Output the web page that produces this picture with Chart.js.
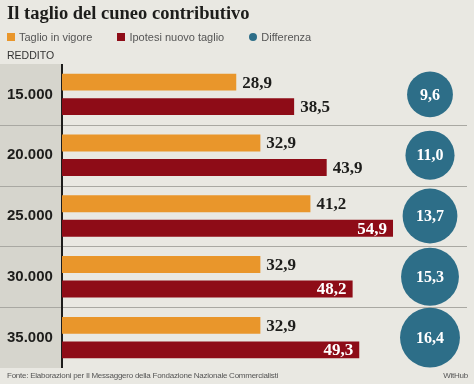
<!DOCTYPE html>
<html>
<head>
<meta charset="utf-8">
<script src="https://cdn.jsdelivr.net/npm/chart.js@4/dist/chart.umd.min.js"></script>
<style>
  body { margin: 0; background: #e9e8e2; }
  #wrap { position: relative; width: 474px; height: 384px; overflow: hidden; background: #e9e8e2; }
  canvas { position: absolute; left: 0; top: 0; }
  .txt { position: absolute; white-space: nowrap; }
  #title { left: 7px; top: 3px; font: bold 18.5px "Liberation Serif", serif; color: #1d1d1b; }
  #legend { left: 7px; top: 31px; font: 11px "Liberation Sans", sans-serif; color: #555; }
  #legend span.sw { display: inline-block; width: 8px; height: 8px; margin-right: 4px; }
  #legend span.item { margin-right: 22px; }
  #reddito { left: 7px; top: 49px; font: 10.5px "Liberation Sans", sans-serif; color: #333; }
  #fonte { left: 7px; top: 371px; font: 8px "Liberation Sans", sans-serif; letter-spacing: -0.25px; color: #555; }
  #withub { right: 6px; top: 371px; font: 8px "Liberation Sans", sans-serif; letter-spacing: -0.25px; color: #555; }
</style>
</head>
<body>
<div id="wrap">
  <canvas id="chart" width="474" height="384"></canvas>
  <div class="txt" id="title">Il taglio del cuneo contributivo</div>
  <div class="txt" id="legend">
    <span class="item"><span class="sw" style="background:#e9962b"></span>Taglio in vigore</span>
    <span class="item"><span class="sw" style="background:#8e0c17"></span>Ipotesi nuovo taglio</span>
    <span class="item"><span class="sw" style="background:#2d6e88;border-radius:50%"></span>Differenza</span>
  </div>
  <div class="txt" id="reddito">REDDITO</div>
  <div class="txt" id="fonte">Fonte: Elaborazioni per Il Messaggero della Fondazione Nazionale Commercialisti</div>
  <div class="txt" id="withub">WitHub</div>
</div>
<script>
// Data
const redditi = ['15.000', '20.000', '25.000', '30.000', '35.000'];
const taglioInVigore = [28.9, 32.9, 41.2, 32.9, 32.9];
const ipotesiNuovoTaglio = [38.5, 43.9, 54.9, 48.2, 49.3];
const differenza = [9.6, 11.0, 13.7, 15.3, 16.4];

const fmt = v => v.toFixed(1).replace('.', ',');

// Gray label column, separators and axis line (drawn before the scales)
const backdropPlugin = {
    id: 'backdrop',
    beforeDraw(chart) {
        const { ctx, chartArea, scales } = chart;
        const y = scales.y;
        ctx.save();
        ctx.fillStyle = '#d6d5cd';
        ctx.fillRect(0, chartArea.top, chartArea.left, chartArea.bottom - chartArea.top);
        ctx.strokeStyle = '#a9a8a2';
        ctx.lineWidth = 1;
        for (let i = 0; i < redditi.length - 1; i++) {
            const yy = Math.round((y.getPixelForValue(i) + y.getPixelForValue(i + 1)) / 2) + 0.5;
            ctx.beginPath();
            ctx.moveTo(0, yy);
            ctx.lineTo(467, yy);
            ctx.stroke();
        }
        ctx.strokeStyle = '#1d1d1b';
        ctx.lineWidth = 2;
        ctx.beginPath();
        ctx.moveTo(chartArea.left, chartArea.top);
        ctx.lineTo(chartArea.left, chartArea.bottom);
        ctx.stroke();
        ctx.restore();
    }
};

// Value labels and difference circles
const labelsPlugin = {
    id: 'valueLabels',
    afterDatasetsDraw(chart) {
        const { ctx, scales } = chart;
        ctx.save();
        ctx.font = 'bold 17px "Liberation Serif", serif';
        ctx.textBaseline = 'middle';
        chart.data.datasets.forEach((ds, di) => {
            chart.getDatasetMeta(di).data.forEach((bar, i) => {
                const v = ds.data[i];
                if (di === 1 && v > 45) {
                    ctx.fillStyle = '#ffffff';
                    ctx.textAlign = 'right';
                    ctx.fillText(fmt(v), bar.x - 6, bar.y + 1);
                } else {
                    ctx.fillStyle = '#1d1d1b';
                    ctx.textAlign = 'left';
                    ctx.fillText(fmt(v), bar.x + 6, bar.y + 1);
                }
            });
        });
        // circles sized by area
        differenza.forEach((d, i) => {
            const cy = scales.y.getPixelForValue(i);
            const r = 7.4 * Math.sqrt(d);
            ctx.beginPath();
            ctx.arc(430, cy, r, 0, Math.PI * 2);
            ctx.fillStyle = '#2d6e88';
            ctx.fill();
            ctx.fillStyle = '#ffffff';
            ctx.textAlign = 'center';
            ctx.font = 'bold 16px "Liberation Serif", serif';
            ctx.fillText(fmt(d), 430, cy + 1);
        });
        ctx.restore();
    }
};

new Chart(document.getElementById('chart'), {
    type: 'bar',
    data: {
        labels: redditi,
        datasets: [{
            label: 'Taglio in vigore',
            data: taglioInVigore,
            backgroundColor: '#e9962b'
        }, {
            label: 'Ipotesi nuovo taglio',
            data: ipotesiNuovoTaglio,
            backgroundColor: '#8e0c17'
        }]
    },
    options: {
        indexAxis: 'y',
        responsive: false,
        animation: false,
        categoryPercentage: 0.806,
        barPercentage: 0.69,
        layout: { padding: { left: 7, right: 2, top: 64, bottom: 16 } },
        scales: {
            x: { display: false, min: 0, max: 68 },
            y: {
                grid: { display: false },
                border: { display: false },
                afterFit(scale) { scale.width = 55; },
                ticks: {
                    crossAlign: 'far',
                    color: '#1d1d1b',
                    font: { family: '"Liberation Sans", sans-serif', weight: 'bold', size: 15 }
                }
            }
        },
        plugins: {
            legend: { display: false },
            tooltip: { enabled: false }
        }
    },
    plugins: [backdropPlugin, labelsPlugin]
});
</script>
</body>
</html>
